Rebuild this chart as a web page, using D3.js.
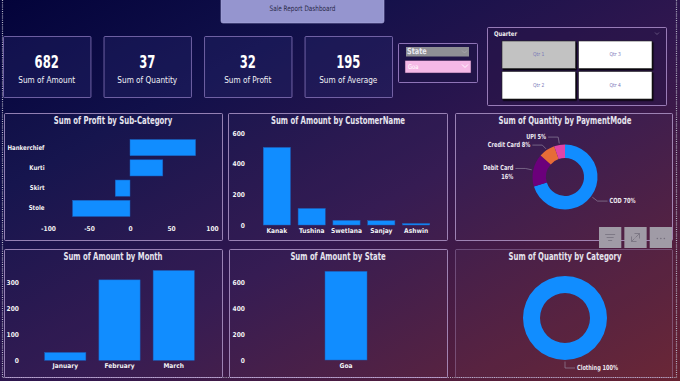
<!DOCTYPE html>
<html><head><meta charset="utf-8">
<script src="https://cdn.jsdelivr.net/npm/d3@7"></script>
<style>
html,body{margin:0;padding:0;background:#0a0a3a;overflow:hidden}
svg{display:block}
text{font-family:"DejaVu Sans Condensed","Liberation Sans Narrow","Roboto",sans-serif}
</style></head>
<body>
<svg id="c" width="680" height="381"></svg>
<script>
// ---------- DATA ----------
const dashboardTitle = "Sale Report Dashboard";
const kpiValues = [682, 37, 32, 195];
const kpiLabels = ["Sum of Amount", "Sum of Quantity", "Sum of Profit", "Sum of Average"];
const stateSlicerTitle = "State";
const stateSelected = "Goa";
const quarterSlicerTitle = "Quarter";
const quarters = ["Qtr 1", "Qtr 3", "Qtr 2", "Qtr 4"];
const quarterSelected = ["Qtr 1"];

const subCategories = ["Hankerchief", "Kurti", "Skirt", "Stole"];
const profitValues = [80, 40, -18, -70];
const profitTicks = [-100, -50, 0, 50, 100];

const customers = ["Kanak", "Tushina", "Swetlana", "Sanjay", "Ashwin"];
const customerAmounts = [506, 108, 30, 28, 10];
const customerTicks = [0, 200, 400, 600];

const paymentModes = ["COD", "Debit Card", "Credit Card", "UPI"];
const paymentQty = [26, 6, 3, 2];

const months = ["January", "February", "March"];
const monthAmounts = [30, 308, 344];
const monthTicks = [0, 100, 200, 300];

const states = ["Goa"];
const stateAmounts = [682];
const stateTicks = [0, 200, 400, 600];

const categories = ["Clothing"];
const categoryQty = [37];

// ---------- STYLE ----------
const BLUE = "#118DFF";
const pieColors = ["#118DFF", "#6B007B", "#E66C37", "#E044A7"];
const TXT = "#f2f2f6";
const plain = d => String(d);

const svg = d3.select("#c");
const defs = svg.append("defs");
const bg = defs.append("linearGradient").attr("id", "bg")
  .attr("x1", 0).attr("y1", 0).attr("x2", 1).attr("y2", 1);
bg.append("stop").attr("offset", "0%").attr("stop-color", "#03033a");
bg.append("stop").attr("offset", "25%").attr("stop-color", "#11104a");
bg.append("stop").attr("offset", "55%").attr("stop-color", "#32174f");
bg.append("stop").attr("offset", "100%").attr("stop-color", "#682232");
svg.append("rect").attr("width", 680).attr("height", 381).attr("fill", "url(#bg)");

const sh = defs.append("filter").attr("id", "sh").attr("x", "-10%").attr("y", "-10%").attr("width", "130%").attr("height", "140%");
sh.append("feDropShadow").attr("dx", 1.2).attr("dy", 1.5).attr("stdDeviation", 0.6).attr("flood-color", "#000").attr("flood-opacity", 0.9);

// condensed text helper: real text, horizontally compressed
function ctext(parent, x, y, t, o = {}) {
  const g = parent.append("g").attr("transform", `translate(${x},${y}) scale(${o.sx || 0.82},1)`);
  return g.append("text").attr("x", 0).attr("y", 0)
    .attr("text-anchor", o.anchor || "middle").attr("dominant-baseline", "middle")
    .attr("font-size", o.size || 9).attr("font-weight", o.weight || "normal")
    .attr("fill", o.fill || TXT).text(t);
}
function panel(x, y, w, h, opts = {}) {
  svg.append("rect").attr("x", x + 0.5).attr("y", y + 0.5).attr("width", w).attr("height", h)
    .attr("fill", opts.fill || "rgba(255,255,255,0.025)")
    .attr("stroke", opts.stroke || "rgba(190,165,215,0.75)").attr("stroke-width", 1).attr("rx", 1);
}
function title(x, y, t) {
  ctext(svg, x, y, t, { size: 9.6, weight: "bold", fill: "#e6e4ee", sx: 0.8 });
}
function styleAxis(g) {
  g.select(".domain").remove();
  g.selectAll("line").remove();
  g.selectAll("text").attr("font-size", 6.6).attr("font-weight", "bold").attr("fill", TXT)
    .attr("stroke", "rgba(20,10,40,0.5)").attr("stroke-width", 0.4).attr("paint-order", "stroke");
}

// dotted canvas border
svg.append("path").attr("d", "M2.5,0 V377.5 H676.5 V0").attr("fill", "none")
  .attr("stroke", "#b8b8c8").attr("stroke-width", 1.2).attr("stroke-dasharray", "1,1.2");

// ---------- HEADER ----------
svg.append("rect").attr("x", 221).attr("y", -3).attr("width", 163).attr("height", 26).attr("rx", 2)
  .attr("fill", "#9595cf").attr("stroke", "#b0b0e0").attr("stroke-width", 0.6);
ctext(svg, 302.5, 8.5, dashboardTitle, { size: 7.5, fill: "#2a2a4a", sx: 0.85 });

// KPI cards
const kpiX = d3.scaleBand().domain(d3.range(kpiValues.length)).range([3, 392]).paddingInner(0.13).paddingOuter(0);
kpiValues.forEach((v, i) => {
  const x = kpiX(i), w = kpiX.bandwidth();
  panel(x, 36, w, 61, { fill: "rgba(40,40,110,0.35)", stroke: "rgba(150,130,200,0.7)" });
  ctext(svg, x + w / 2, 62.5, plain(v), { size: 17, weight: "bold", fill: "#ffffff", sx: 0.76 });
  ctext(svg, x + w / 2, 80.5, kpiLabels[i], { size: 9.6, sx: 0.85 });
});

// State slicer
panel(398, 43, 79, 39, { fill: "rgba(30,20,70,0.5)", stroke: "rgba(170,140,210,0.8)" });
svg.append("rect").attr("x", 406).attr("y", 47).attr("width", 63).attr("height", 9.5).attr("fill", "#8f8f95");
ctext(svg, 407, 52, stateSlicerTitle, { size: 8.5, weight: "bold", fill: "#e8e8f0", anchor: "start", sx: 0.85 });
svg.append("path").attr("d", "M462,50.5 l2.5,2.5 l2.5,-2.5").attr("fill", "none").attr("stroke", "#a8a8ae").attr("stroke-width", 0.8);
svg.append("rect").attr("x", 405).attr("y", 60.5).attr("width", 66).attr("height", 12.5).attr("fill", "#f5b8e6")
  .attr("stroke", "#3a2050").attr("stroke-width", 0.5);
ctext(svg, 408, 67, stateSelected, { size: 6.5, fill: "#ffffff", anchor: "start", sx: 0.9 });
svg.append("path").attr("d", "M462,64.5 l3,3 l3,-3").attr("fill", "none").attr("stroke", "#ffffff").attr("stroke-width", 0.9);

// Quarter slicer
panel(487, 27, 179, 78, { fill: "rgba(40,20,70,0.45)", stroke: "rgba(180,150,210,0.8)" });
ctext(svg, 494, 34, quarterSlicerTitle, { size: 6.5, weight: "bold", fill: "#f0f0f0", anchor: "start", sx: 0.9 });
svg.append("path").attr("d", "M655,32.5 l2,2 l2,-2").attr("fill", "none").attr("stroke", "#7a6a90").attr("stroke-width", 0.7);
const qx = d3.scaleBand().domain([0, 1]).range([502, 652]).paddingInner(0.04);
const qy = d3.scaleBand().domain([0, 1]).range([41, 99]).paddingInner(0.1);
quarters.forEach((q, i) => {
  const col = i % 2, row = Math.floor(i / 2);
  const sel = quarterSelected.includes(q);
  svg.append("rect").attr("x", qx(col)).attr("y", qy(row)).attr("width", qx.bandwidth()).attr("height", qy.bandwidth())
    .attr("fill", sel ? "#c2c2c2" : "#ffffff").attr("stroke", "#222").attr("stroke-width", 0.6).attr("filter", "url(#sh)");
  ctext(svg, qx(col) + qx.bandwidth() / 2, qy(row) + qy.bandwidth() / 2, q, { size: 5.5, fill: "#7a78b8", sx: 0.9 });
});

// ---------- CHART 1: profit by sub-category ----------
panel(4, 113, 218, 127);
title(113, 121, "Sum of Profit by Sub-Category");
{
  const x = d3.scaleLinear().domain([-100, 100]).range([48, 212]);
  const y = d3.scaleBand().domain(subCategories).range([137.5, 218.5]).paddingInner(0.2).paddingOuter(0.1);
  svg.append("g").selectAll("rect").data(subCategories).join("rect")
    .attr("x", (d, i) => x(Math.min(0, profitValues[i])))
    .attr("width", (d, i) => Math.abs(x(profitValues[i]) - x(0)))
    .attr("y", d => y(d)).attr("height", y.bandwidth())
    .attr("fill", BLUE).attr("stroke", "#1c5cb8").attr("stroke-width", 0.5);
  const gx = svg.append("g").attr("transform", "translate(0,226.5)")
    .call(d3.axisBottom(x).tickValues(profitTicks).tickFormat(plain).tickSize(0).tickPadding(0));
  styleAxis(gx);
  gx.selectAll("text").attr("dy", "0.71em");
  const gy = svg.append("g").attr("transform", "translate(44.5,0)")
    .call(d3.axisLeft(y).tickSize(0).tickPadding(0));
  styleAxis(gy);
  gy.selectAll("text").attr("transform", "scale(0.92,1)");
}

// ---------- CHART 2: amount by customer ----------
panel(228, 113, 219, 127);
title(338, 121, "Sum of Amount by CustomerName");
{
  const y = d3.scaleLinear().domain([0, 600]).range([225, 133]);
  const x = d3.scaleBand().domain(customers).range([257, 436]).paddingInner(0.22).paddingOuter(0.18);
  svg.append("g").selectAll("rect").data(customers).join("rect")
    .attr("x", d => x(d)).attr("width", x.bandwidth())
    .attr("y", (d, i) => y(customerAmounts[i])).attr("height", (d, i) => y(0) - y(customerAmounts[i]))
    .attr("fill", BLUE).attr("stroke", "#1c5cb8").attr("stroke-width", 0.5);
  const gy = svg.append("g").attr("transform", "translate(245,0)")
    .call(d3.axisLeft(y).tickValues(customerTicks).tickFormat(plain).tickSize(0).tickPadding(0));
  styleAxis(gy);
  const gx = svg.append("g").attr("transform", "translate(0,228.5)")
    .call(d3.axisBottom(x).tickSize(0).tickPadding(0));
  styleAxis(gx);
  gx.selectAll("text").attr("dy", "0.71em");
}

// ---------- donut helper ----------
function donut(cx, cy, ro, ri, names, vals, colors, panelLeft) {
  const total = d3.sum(vals);
  const pie = d3.pie().sort(null).value(d => d)(vals);
  const arc = d3.arc().innerRadius(ri).outerRadius(ro);
  const g = svg.append("g").attr("transform", `translate(${cx},${cy})`);
  g.selectAll("path").data(pie).join("path").attr("d", arc).attr("fill", (d, i) => colors[i]);
  const pct = d3.format(".0%");
  const items = pie.map((a, i) => {
    const mid = (a.startAngle + a.endAngle) / 2;
    const s = Math.sin(mid), c = -Math.cos(mid);
    return { i, s, c, side: s >= -0.001 ? 1 : -1, y: c * (ro + 8) };
  });
  [1, -1].forEach(side => {
    const list = items.filter(d => d.side === side).sort((a, b) => a.y - b.y);
    for (let k = 1; k < list.length; k++) {
      if (list[k].y < list[k - 1].y + 8) list[k].y = list[k - 1].y + 8;
    }
  });
  items.forEach(it => {
    const { i, s, c, side } = it;
    const p1 = [s * (ro + 1.5), c * (ro + 1.5)];
    const p2 = [s * (ro + 8), it.y];
    const p3 = [p2[0] + side * 10, it.y];
    g.append("polyline").attr("points", [p1, p2, p3].map(p => p.join(",")).join(" "))
      .attr("fill", "none").attr("stroke", "#9a90a8").attr("stroke-width", 0.6);
    const tx = p3[0] + side * 2;
    const label = names[i] + " " + pct(vals[i] / total);
    const t = ctext(g, tx, it.y, label, { size: 7, weight: "bold", fill: "#ece8f0", anchor: side > 0 ? "start" : "end", sx: 0.8 });
    const avail = cx + tx - panelLeft;
    if (side < 0 && t.node().getComputedTextLength() * 0.8 > avail - 20) {
      t.text(null);
      t.append("tspan").attr("x", 0).attr("dy", "-0.1em").text(names[i]);
      t.append("tspan").attr("x", 0).attr("dy", "1.25em").text(pct(vals[i] / total));
    }
  });
}

// ---------- CHART 3: quantity by payment mode ----------
panel(455, 113, 217, 127);
title(565, 121, "Sum of Quantity by PaymentMode");
donut(565, 177, 32.5, 19, paymentModes, paymentQty, pieColors, 455);

// ---------- CHART 4: amount by month ----------
panel(4, 249, 218, 128);
title(113, 257, "Sum of Amount by Month");
{
  const y = d3.scaleLinear().domain([0, 350]).range([360.3, 268.9]);
  const x = d3.scaleBand().domain(months).range([36, 203]).paddingInner(0.24).paddingOuter(0.16);
  svg.append("g").selectAll("rect").data(months).join("rect")
    .attr("x", d => x(d)).attr("width", x.bandwidth())
    .attr("y", (d, i) => y(monthAmounts[i])).attr("height", (d, i) => y(0) - y(monthAmounts[i]))
    .attr("fill", BLUE).attr("stroke", "#1c5cb8").attr("stroke-width", 0.5);
  const gy = svg.append("g").attr("transform", "translate(19,0)")
    .call(d3.axisLeft(y).tickValues(monthTicks).tickFormat(plain).tickSize(0).tickPadding(0));
  styleAxis(gy);
  const gx = svg.append("g").attr("transform", "translate(0,363.5)")
    .call(d3.axisBottom(x).tickSize(0).tickPadding(0));
  styleAxis(gx);
  gx.selectAll("text").attr("dy", "0.71em");
}

// ---------- CHART 5: amount by state ----------
panel(229, 249, 218, 128);
title(338, 257, "Sum of Amount by State");
{
  const y = d3.scaleLinear().domain([0, 600]).range([360, 282]);
  const x = d3.scaleBand().domain(states).range([325, 367]).padding(0);
  svg.append("g").selectAll("rect").data(states).join("rect")
    .attr("x", d => x(d)).attr("width", x.bandwidth())
    .attr("y", (d, i) => y(stateAmounts[i])).attr("height", (d, i) => y(0) - y(stateAmounts[i]))
    .attr("fill", BLUE).attr("stroke", "#1c5cb8").attr("stroke-width", 0.5);
  const gy = svg.append("g").attr("transform", "translate(245,0)")
    .call(d3.axisLeft(y).tickValues(stateTicks).tickFormat(plain).tickSize(0).tickPadding(0));
  styleAxis(gy);
  const gx = svg.append("g").attr("transform", "translate(0,363.5)")
    .call(d3.axisBottom(x).tickSize(0).tickPadding(0));
  styleAxis(gx);
  gx.selectAll("text").attr("dy", "0.71em");
}

// ---------- CHART 6: quantity by category ----------
panel(455, 249, 217, 128, { stroke: "rgba(190,165,215,0.35)" });
title(565, 257, "Sum of Quantity by Category");
donut(565, 318, 42, 25, categories, categoryQty, [BLUE], 455);

// ---------- visual header icons (overlay) ----------
const iconX = d3.scaleBand().domain([0, 1, 2]).range([599, 672]).paddingInner(0.12);
[0, 1, 2].forEach(i => {
  const x = iconX(i), w = iconX.bandwidth();
  svg.append("rect").attr("x", x).attr("y", 227).attr("width", w).attr("height", 21)
    .attr("fill", "#a09ba6");
  const g = svg.append("g").attr("transform", `translate(${x + w / 2},237.5)`)
    .attr("stroke", "#75707e").attr("stroke-width", 0.8).attr("fill", "none");
  if (i === 0) {
    g.append("path").attr("d", "M-5,-3 H5 M-3.5,0 H3.5 M-2,3 H2");
  } else if (i === 1) {
    g.append("path").attr("d", "M-4,-1 V4 H1 M-1,-4 H4 V1 M4,-4 L0,0 M-4,4 L-1,1");
  } else {
    g.append("g").attr("fill", "#75707e").attr("stroke", "none").selectAll("circle").data([-3.5, 0, 3.5])
      .join("circle").attr("cx", d => d).attr("cy", 1).attr("r", 0.8);
  }
});
</script>
</body></html>
